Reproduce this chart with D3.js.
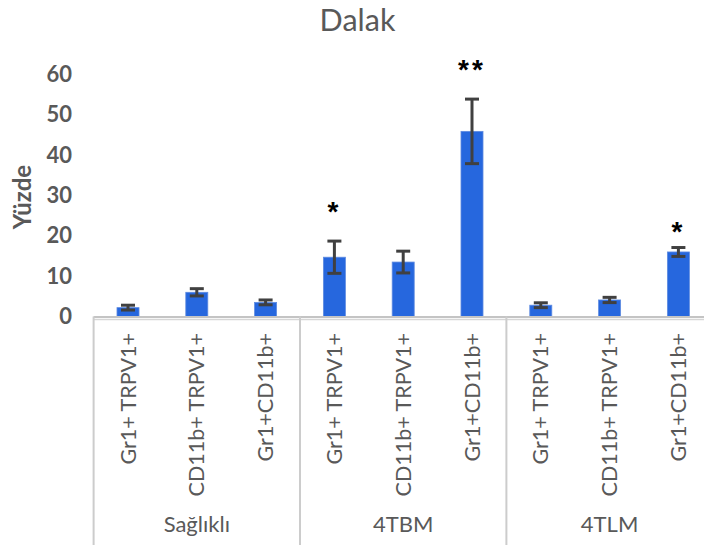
<!doctype html>
<html lang="tr">
<head>
  <meta charset="utf-8" />
  <title>Dalak</title>
  <script src="https://cdn.jsdelivr.net/npm/d3@7"></script>
  <style>
    body { margin: 0; background: #fff; }
    text { font-family: Lato, "Open Sans", sans-serif; }
  </style>
</head>
<body>
<script>

  // data
  var categories = ["Gr1+ TRPV1+", "CD11b+ TRPV1+", "Gr1+CD11b+",
                    "Gr1+ TRPV1+", "CD11b+ TRPV1+", "Gr1+CD11b+",
                    "Gr1+ TRPV1+", "CD11b+ TRPV1+", "Gr1+CD11b+"];
  var groups = ["Sağlıklı", "4TBM", "4TLM"];
  var values = [2.2, 6.0, 3.5, 14.7, 13.5, 45.9, 2.8, 4.1, 16.0];
  var errors = [0.6, 0.9, 0.6, 4.0, 2.7, 8.0, 0.6, 0.65, 1.1];
  var stars = ["", "", "", "*", "", "**", "", "", "*"];
  var starLevels = [null, null, null, 27.2, null, 62.4, null, null, 22.3];
  var yTicks = [0, 10, 20, 30, 40, 50, 60];

  var width = 704, height = 545;
  var grey = "#595959";

  var svg = d3.select("body").append("svg")
    .attr("width", width)
    .attr("height", height);

  var keys = categories.map(function(d, i) { return i; });

  var x = d3.scaleBand()
    .domain(keys)
    .range([93.6, 712.8])
    .paddingInner(0.68)
    .paddingOuter(0.34);

  var y = d3.scaleLinear()
    .domain([0, 60])
    .range([316.5, 74.5]);

  // title
  svg.append("text")
    .attr("x", 357.5)
    .attr("y", 30.5)
    .attr("text-anchor", "middle")
    .style("font-size", "30.5px")
    .style("fill", grey)
    .text("Dalak");

  // y axis (labels only)
  var yAxis = d3.axisLeft(y)
    .tickValues(yTicks)
    .tickSize(0)
    .tickPadding(21.6);

  var ya = svg.append("g")
    .attr("transform", "translate(93.6,0)")
    .call(yAxis);
  ya.select(".domain").remove();
  ya.selectAll("text")
    .style("font-family", "Lato, sans-serif")
    .style("font-size", "22px")
    .style("font-weight", "bold")
    .style("fill", grey);

  svg.append("text")
    .attr("transform", "translate(23," + 197 + ") rotate(-90)")
    .attr("text-anchor", "middle")
    .attr("dy", "0.35em")
    .style("font-size", "24px")
    .style("font-weight", "bold")
    .style("fill", grey)
    .text("Yüzde");

  // bars
  svg.selectAll(".bar")
    .data(values)
    .enter().append("rect")
    .attr("class", "bar")
    .attr("x", function(d, i) { return x(i); })
    .attr("width", x.bandwidth())
    .attr("y", function(d) { return y(d); })
    .attr("height", function(d) { return y(0) - y(d); })
    .attr("fill", "#2667de")
    .attr("stroke", "#5f8be0")
    .attr("stroke-width", 0.8);

  // error bars
  var cap = 7;
  var eb = svg.selectAll(".err")
    .data(values)
    .enter().append("g")
    .attr("class", "err")
    .attr("stroke", "#404040")
    .attr("stroke-width", 3);

  eb.append("line")
    .attr("x1", function(d, i) { return x(i) + x.bandwidth() / 2; })
    .attr("x2", function(d, i) { return x(i) + x.bandwidth() / 2; })
    .attr("y1", function(d, i) { return y(d + errors[i]); })
    .attr("y2", function(d, i) { return y(d - errors[i]); });
  eb.append("line")
    .attr("x1", function(d, i) { return x(i) + x.bandwidth() / 2 - cap; })
    .attr("x2", function(d, i) { return x(i) + x.bandwidth() / 2 + cap; })
    .attr("y1", function(d, i) { return y(d + errors[i]); })
    .attr("y2", function(d, i) { return y(d + errors[i]); });
  eb.append("line")
    .attr("x1", function(d, i) { return x(i) + x.bandwidth() / 2 - cap; })
    .attr("x2", function(d, i) { return x(i) + x.bandwidth() / 2 + cap; })
    .attr("y1", function(d, i) { return y(d - errors[i]); })
    .attr("y2", function(d, i) { return y(d - errors[i]); });

  // significance stars (empty strings give empty texts)
  svg.selectAll(".star")
    .data(stars)
    .enter().append("text")
    .attr("class", "star")
    .attr("x", function(d, i) { return x(i) + x.bandwidth() / 2; })
    .attr("y", function(d, i) { return starLevels[i] === null ? 0 : y(starLevels[i]); })
    .attr("dy", "0.5em")
    .attr("text-anchor", "middle")
    .style("font-family", "'Liberation Sans', sans-serif")
    .style("font-size", "28px")
    .style("font-weight", "bold")
    .style("letter-spacing", "3px")
    .style("fill", "#000")
    .text(function(d) { return d; });

  // category axis: lines + boxes
  svg.append("line")
    .attr("x1", 93.6).attr("x2", 712.8)
    .attr("y1", y(0) + 0.5).attr("y2", y(0) + 0.5)
    .attr("stroke", "#c4c4c4").attr("stroke-width", 2);
  svg.append("line")
    .attr("x1", 93.6).attr("x2", 712.8)
    .attr("y1", y(0) + 3).attr("y2", y(0) + 3)
    .attr("stroke", "#d6d6d6").attr("stroke-width", 1.5);

  var step = x.step();
  var seps = [0, 3, 6, 9].map(function(k) { return 93.6 + k * step; });
  svg.selectAll(".sep")
    .data(seps)
    .enter().append("line")
    .attr("class", "sep")
    .attr("x1", function(d) { return d; })
    .attr("x2", function(d) { return d; })
    .attr("y1", y(0))
    .attr("y2", height)
    .attr("stroke", "#cccccc")
    .attr("stroke-width", 2);

  // category labels (rotated)
  svg.selectAll(".cat")
    .data(categories)
    .enter().append("text")
    .attr("class", "cat")
    .attr("transform", function(d, i) {
      return "translate(" + (x(i) + x.bandwidth() / 2) + ",333) rotate(-90)";
    })
    .attr("dy", "0.35em")
    .attr("text-anchor", "end")
    .style("font-size", "21.5px")
    .style("fill", grey)
    .text(function(d) { return d; });

  // group labels
  svg.selectAll(".grp")
    .data(groups)
    .enter().append("text")
    .attr("class", "grp")
    .attr("x", function(d, i) { return (seps[i] + seps[i + 1]) / 2; })
    .attr("y", 531.5)
    .attr("text-anchor", "middle")
    .style("font-size", "22px")
    .style("fill", grey)
    .text(function(d) { return d; });

</script>
</body>
</html>
